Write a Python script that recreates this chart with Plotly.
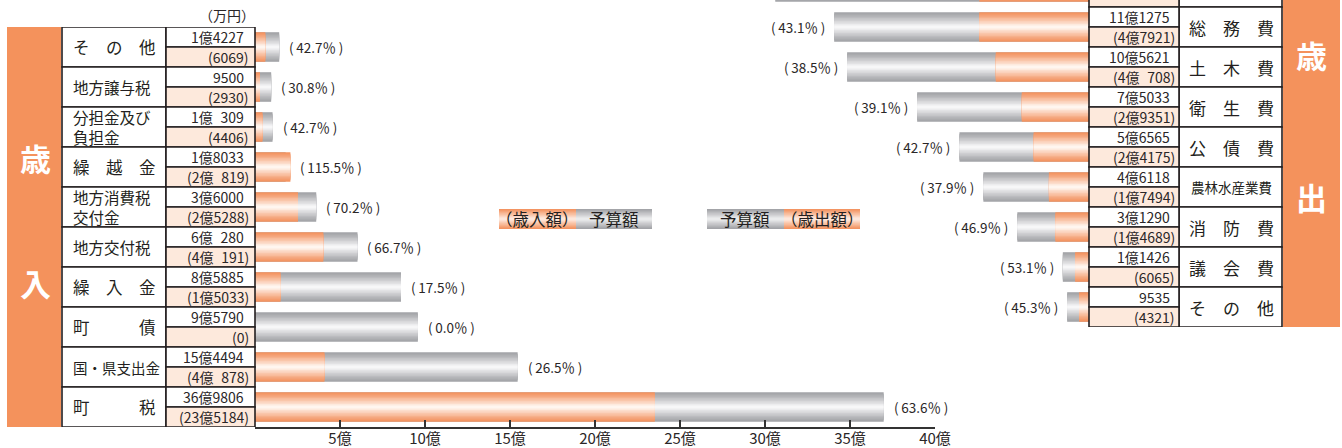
import plotly.graph_objects as go

W, H = 1342, 448

# ---------------- data (万円) ----------------
rev_items = ["その他", "地方譲与税", "分担金及び負担金", "繰越金", "地方消費税交付金",
             "地方交付税", "繰入金", "町債", "国・県支出金", "町税"]
rev_budget = [14227, 9500, 10309, 18033, 36000, 60280, 85885, 95790, 154494, 369806]
rev_actual = [6069, 2930, 4406, 20819, 25288, 40191, 15033, 0, 40878, 235184]
rev_rate = [42.7, 30.8, 42.7, 115.5, 70.2, 66.7, 17.5, 0.0, 26.5, 63.6]

# first row is cut off at the top of the picture
exp_items = ["", "総務費", "土木費", "衛生費", "公債費", "農林水産業費", "消防費", "議会費", "その他"]
exp_budget = [137000, 111275, 105621, 75033, 56565, 46118, 31290, 11426, 9535]
exp_actual = [47900, 47921, 40708, 29351, 24175, 17494, 14689, 6065, 4321]
exp_rate = [None, 43.1, 38.5, 39.1, 42.7, 37.9, 46.9, 53.1, 45.3]

tick_vals = [0, 5, 10, 15, 20, 25, 30, 35, 40]
tick_text = ["", "5億", "10億", "15億", "20億", "25億", "30億", "35億", "40億"]
unit_label = "（万円）"
legend_rev = ["（歳入額）", "予算額"]
legend_exp = ["予算額", "（歳出額）"]
side_rev = ["歳", "入"]
side_exp = ["歳", "出"]

display = {
    "その他": "そ\u3000の\u3000他",
    "分担金及び負担金": "分担金及び<br>負担金",
    "繰越金": "繰\u3000越\u3000金",
    "地方消費税交付金": "地方消費税<br>交付金",
    "繰入金": "繰\u3000入\u3000金",
    "町債": "町\u3000\u3000\u3000債",
    "町税": "町\u3000\u3000\u3000税",
    "総務費": "総\u3000務\u3000費",
    "土木費": "土\u3000木\u3000費",
    "衛生費": "衛\u3000生\u3000費",
    "公債費": "公\u3000債\u3000費",
    "消防費": "消\u3000防\u3000費",
    "議会費": "議\u3000会\u3000費",
}

# ---------------- style ----------------
FONT = "Noto Sans CJK JP, Noto Sans, sans-serif"
INK = "#231F20"
TXT = "#2a2627"
ORANGE = "#F4925C"
O_EDGE = (243, 148, 98)
O_MID = (255, 246, 240)
G_EDGE = (163, 164, 168)
G_MID = (247, 247, 248)
PEACH = "#FDE9DC"
NL = 10
BW = 0.74


def px(x):
    return x / W


def py(y):
    return 1 - y / H


def mix(c1, c2, t):
    return "rgb(%d,%d,%d)" % tuple(round(a + (b - a) * t) for a, b in zip(c1, c2))


def fmt(v):
    oku, man = divmod(v, 10000)
    if oku == 0:
        return str(man)
    s = str(man)
    return f"{oku}億" + "\u2007" * (4 - len(s)) + s


def pct(r):
    return f"(\u2009{r:.1f}％\u2009)"


fig = go.Figure()


def gradient_bars(x, y, edge, mid, xa, ya):
    for k in range(NL):
        t = (k / (NL - 1)) ** 1.15
        fig.add_trace(go.Bar(
            x=x, y=y, orientation="h", width=BW * (1 - k / NL),
            marker=dict(color=mix(edge, mid, t), line=dict(width=0)),
            xaxis=xa, yaxis=ya, hoverinfo="skip", showlegend=False))


# left (revenue)
ry = list(range(len(rev_items)))
rb = [v / 10000 for v in rev_budget]
ra = [v / 10000 for v in rev_actual]
gradient_bars(rb, ry, G_EDGE, G_MID, "x", "y")
gradient_bars(ra, ry, O_EDGE, O_MID, "x", "y")

# right (expenditure)
ey = [i - 1 for i in range(len(exp_items))]
eb = [v / 10000 for v in exp_budget]
ea = [v / 10000 for v in exp_actual]
gradient_bars(eb, ey, G_EDGE, G_MID, "x2", "y2")
gradient_bars(ea, ey, O_EDGE, O_MID, "x2", "y2")

shapes = []
ann = []


def cell(x0, x1, y0, y1, yref, fill, line=True):
    shapes.append(dict(type="rect", xref="paper", yref=yref,
                       x0=px(x0), x1=px(x1), y0=y0, y1=y1,
                       fillcolor=fill,
                       line=dict(color=INK, width=1.6 if line else 0)))


VAL_SIZE = 14
PCT_SIZE = 13.5

# ---- left table ----
n = len(rev_items)
cell(7, 61, -0.5, n - 0.5, "y", ORANGE, line=False)
for i, name in enumerate(rev_items):
    cell(62, 166, i - 0.5, i + 0.5, "y", "white")
    cell(166, 255, i - 0.5, i, "y", "white")
    cell(166, 255, i, i + 0.5, "y", PEACH)
    lab = display.get(name, name)
    if "\u3000" in lab:
        size = 16.5
    elif len(lab) >= 6 and "<br>" not in lab:
        size = 14.5
    else:
        size = 15.5
    ann.append(dict(x=px(71), y=i, xref="paper", yref="y", text=lab,
                    xanchor="left", yanchor="middle", align="left", showarrow=False,
                    font=dict(family=FONT, size=size, color=INK)))
    ann.append(dict(x=px(246), y=i - 0.25, xref="paper", yref="y", text=fmt(rev_budget[i]),
                    xanchor="right", yanchor="middle", showarrow=False,
                    font=dict(family=FONT, size=VAL_SIZE, color=TXT)))
    ann.append(dict(x=px(251), y=i + 0.25, xref="paper", yref="y", text="(" + fmt(rev_actual[i]) + ")",
                    xanchor="right", yanchor="middle", showarrow=False,
                    font=dict(family=FONT, size=VAL_SIZE, color=TXT)))
    ann.append(dict(x=max(rb[i], ra[i]), y=i, xref="x", yref="y", text=pct(rev_rate[i]),
                    xanchor="left", yanchor="middle", xshift=8, showarrow=False,
                    font=dict(family=FONT, size=PCT_SIZE, color=TXT)))

ann.append(dict(x=px(227), y=py(15), xref="paper", yref="paper", text=unit_label,
                xanchor="center", yanchor="middle", showarrow=False,
                font=dict(family=FONT, size=14, color=TXT)))
for txt, yy in zip(side_rev, [157, 282]):
    ann.append(dict(x=px(35), y=py(yy), xref="paper", yref="paper", text="<b>" + txt + "</b>",
                    xanchor="center", yanchor="middle", showarrow=False,
                    font=dict(family=FONT, size=31, color="white")))

# ---- right table ----
m = len(exp_items)
cell(1283, 1340, -1.5, m - 1.5, "y2", ORANGE, line=False)
for j, name in enumerate(exp_items):
    yv = ey[j]
    cell(1179, 1282, yv - 0.5, yv + 0.5, "y2", "white")
    cell(1089, 1179, yv - 0.5, yv, "y2", "white")
    cell(1089, 1179, yv, yv + 0.5, "y2", PEACH)
    if name:
        lab = display.get(name, name)
        size = 17 if "\u3000" in lab else 13.5
        ann.append(dict(x=px(1231), y=yv, xref="paper", yref="y2", text=lab,
                        xanchor="center", yanchor="middle", showarrow=False,
                        font=dict(family=FONT, size=size, color=INK)))
        ann.append(dict(x=max(eb[j], ea[j]), y=yv, xref="x2", yref="y2",
                        text=pct(exp_rate[j]),
                        xanchor="right", yanchor="middle", xshift=-7, showarrow=False,
                        font=dict(family=FONT, size=PCT_SIZE, color=TXT)))
    ann.append(dict(x=px(1172), y=yv - 0.25, xref="paper", yref="y2", text=fmt(exp_budget[j]),
                    xanchor="right", yanchor="middle", showarrow=False,
                    font=dict(family=FONT, size=VAL_SIZE, color=TXT)))
    ann.append(dict(x=px(1177), y=yv + 0.25, xref="paper", yref="y2", text="(" + fmt(exp_actual[j]) + ")",
                    xanchor="right", yanchor="middle", showarrow=False,
                    font=dict(family=FONT, size=VAL_SIZE, color=TXT)))

for txt, yy in zip(side_exp, [55, 197]):
    ann.append(dict(x=px(1311), y=py(yy), xref="paper", yref="paper", text="<b>" + txt + "</b>",
                    xanchor="center", yanchor="middle", showarrow=False,
                    font=dict(family=FONT, size=31, color="white")))


# ---- legend boxes ----
def grad_box(x0, x1, y0, y1, edge, mid):
    steps = 7
    h = (y1 - y0)
    for k in range(steps):
        t = k / (steps - 1)
        d = h / 2 * (1 - k / steps)
        c = (y0 + y1) / 2
        shapes.append(dict(type="rect", xref="paper", yref="paper",
                           x0=px(x0), x1=px(x1), y0=py(c - d), y1=py(c + d),
                           fillcolor=mix(edge, mid, t * 0.85), line=dict(width=0)))


grad_box(499, 576, 209, 229, O_EDGE, O_MID)
grad_box(576, 652, 209, 229, G_EDGE, G_MID)
grad_box(707, 784, 209, 229, G_EDGE, G_MID)
grad_box(784, 860, 209, 229, O_EDGE, O_MID)
for txt, xx in [(legend_rev[0], 537), (legend_rev[1], 614), (legend_exp[0], 745), (legend_exp[1], 822)]:
    ann.append(dict(x=px(xx), y=py(219), xref="paper", yref="paper", text=txt,
                    xanchor="center", yanchor="middle", showarrow=False,
                    font=dict(family=FONT, size=16.5, color=INK)))

R2 = (1089 - 700) / 22.9

fig.update_layout(
    width=W, height=H,
    margin=dict(l=0, r=0, t=0, b=0),
    paper_bgcolor="white", plot_bgcolor="rgba(0,0,0,0)",
    barmode="overlay", showlegend=False,
    shapes=shapes, annotations=ann,
    xaxis=dict(domain=[px(255), px(935)], range=[0, 40], anchor="y",
               showline=True, linecolor="#333333", linewidth=2,
               ticks="inside", ticklen=7, tickwidth=2, tickcolor="#333333",
               tickvals=tick_vals, ticktext=tick_text, ticklabelstandoff=-3,
               tickfont=dict(family=FONT, size=15, color=TXT),
               showgrid=False, zeroline=False, fixedrange=True, automargin=False),
    yaxis=dict(domain=[py(427), py(27)], range=[n - 0.5, -0.5], anchor="x",
               visible=False, fixedrange=True),
    xaxis2=dict(domain=[px(700), px(1089)], range=[R2, 0], anchor="y2",
                visible=False, fixedrange=True),
    yaxis2=dict(domain=[py(327), 1], range=[m - 1.5, -0.675], anchor="x2",
                visible=False, fixedrange=True),
)

fig.write_html("out.html", config={"displayModeBar": False},
               post_script="document.body.style.margin='0px';document.body.style.overflow='hidden';")
